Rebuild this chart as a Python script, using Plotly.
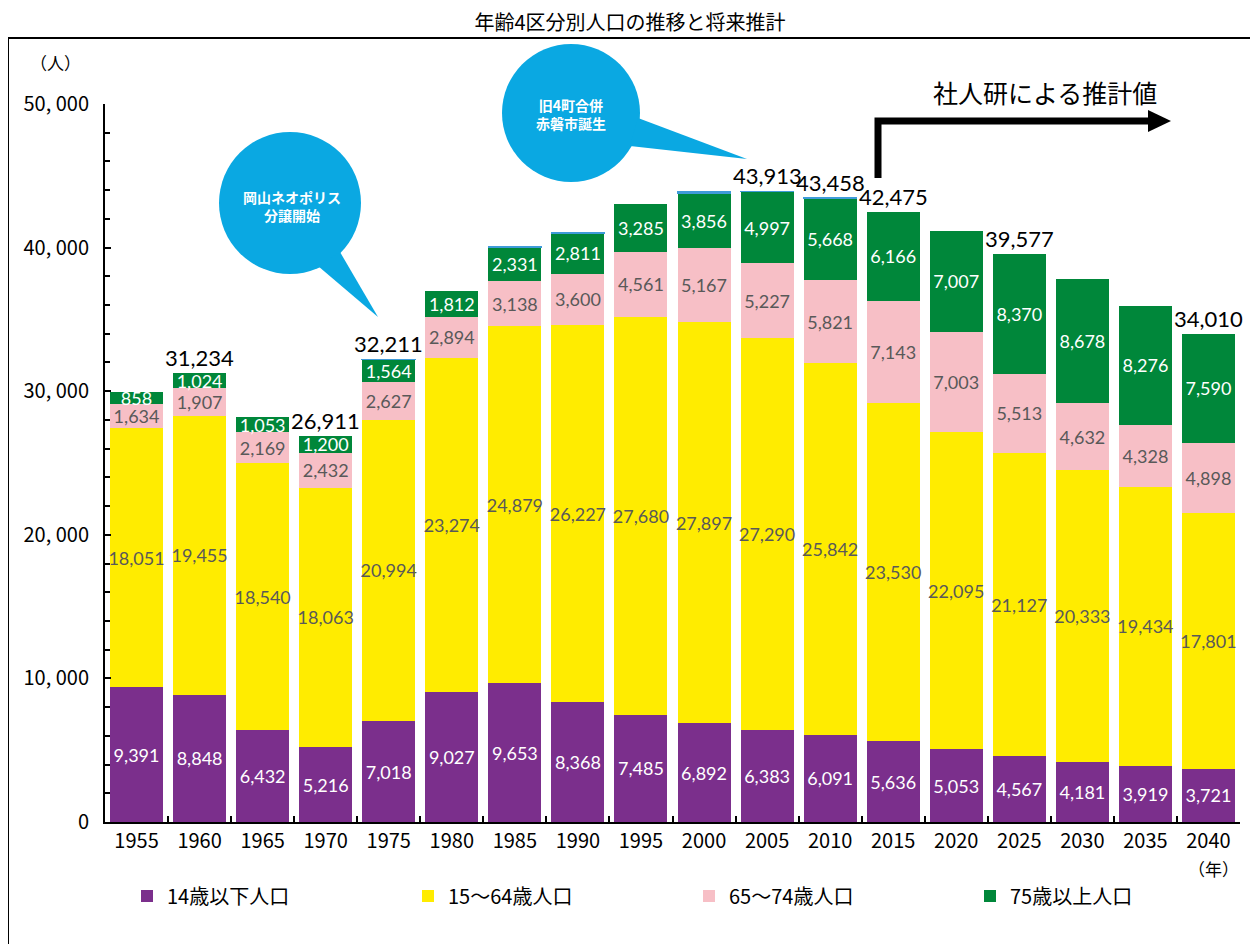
import plotly.graph_objects as go

years = ["1955", "1960", "1965", "1970", "1975", "1980", "1985", "1990", "1995",
         "2000", "2005", "2010", "2015", "2020", "2025", "2030", "2035", "2040"]
age0_14 = [9391, 8848, 6432, 5216, 7018, 9027, 9653, 8368, 7485,
           6892, 6383, 6091, 5636, 5053, 4567, 4181, 3919, 3721]
age15_64 = [18051, 19455, 18540, 18063, 20994, 23274, 24879, 26227, 27680,
            27897, 27290, 25842, 23530, 22095, 21127, 20333, 19434, 17801]
age65_74 = [1634, 1907, 2169, 2432, 2627, 2894, 3138, 3600, 4561,
            5167, 5227, 5821, 7143, 7003, 5513, 4632, 4328, 4898]
age75_up = [858, 1024, 1053, 1200, 1564, 1812, 2331, 2811, 3285,
            3856, 4997, 5668, 6166, 7007, 8370, 8678, 8276, 7590]
unknown = [0, 0, 0, 0, 8, 0, 30, 30, 0, 40, 16, 36, 0, 0, 0, 0, 0, 0]
total_years = ["1960", "1970", "1975", "2005", "2010", "2015", "2025", "2040"]
total_values = [31234, 26911, 32211, 43913, 43458, 42475, 39577, 34010]
y_tickvals = [0, 10000, 20000, 30000, 40000, 50000]
y_ticktext = ["0", "10, 000", "20, 000", "30, 000", "40, 000", "50, 000"]
names = ["14歳以下人口", "15～64歳人口", "65～74歳人口", "75歳以上人口"]

W, H = 1258, 944
OFF = 8  # page offset of the figure (body margin)
L, R, T, B = 105, 1240, 104, 822  # plot area in page pixels


def px(x):
    return (x - L) / (R - L)


def py(y):
    return (B - y) / (B - T)


LABEL_FONT = "Lato, 'Open Sans', sans-serif"
JP_FONT = "'Noto Sans CJK JP', sans-serif"
AXIS_FONT = "'Liberation Sans Narrow', 'Noto Sans CJK JP', sans-serif"

fig = go.Figure()
series = [
    (age0_14, names[0], "#7B2F8C", "white"),
    (age15_64, names[1], "#FFEC00", "#595959"),
    (age65_74, names[2], "#F7BFC6", "#595959"),
    (age75_up, names[3], "#00873A", "white"),
]
for vals, nm, col, tcol in series:
    fig.add_trace(go.Bar(
        x=years, y=vals, name=nm,
        marker=dict(color=col, line=dict(width=0)),
        text=[f"{v:,}" for v in vals],
        textposition="inside", insidetextanchor="middle", textangle=0,
        textfont=dict(family=LABEL_FONT, size=18, color=tcol),
        hoverinfo="skip",
    ))
fig.add_trace(go.Bar(
    x=years, y=unknown, name="不詳", showlegend=False,
    marker=dict(color="#3F9BD9", line=dict(width=[1.6 if v > 0 else 0 for v in unknown], color="#3F9BD9")),
    hoverinfo="skip",
))

annotations = []
for yr, tv in zip(total_years, total_values):
    annotations.append(dict(
        x=years.index(yr), y=tv, xref="x", yref="y", text=f"{tv:,}", showarrow=False,
        xanchor="center", yanchor="bottom", yshift=0,
        font=dict(family=LABEL_FONT, size=22, color="black")))


def note(x, y, text, size, color="black"):
    return dict(x=px(x), y=py(y), xref="paper", yref="paper", text=text, showarrow=False,
                xanchor="center", yanchor="middle",
                font=dict(family=JP_FONT, size=size, color=color))


annotations += [
    note(55, 62, "（人）", 17),
    note(1213, 868, "（年）", 17),
    note(1045, 92, "社人研による推計値", 25),
    note(292, 206, "<b>岡山ネオポリス</b><br><b>分譲開始</b>", 14, "white"),
    note(571, 114, "<b>旧4町合併</b><br><b>赤磐市誕生</b>", 14, "white"),
]

BLUE = "#0AA8E2"


def circle(cx, cy, r):
    return dict(type="circle", xref="paper", yref="paper", x0=px(cx - r), x1=px(cx + r),
                y0=py(cy + r), y1=py(cy - r), fillcolor=BLUE, line=dict(width=0), layer="above")


def poly(pts, fill=None, line=None):
    d = "M " + " L ".join(f"{px(a):.5f},{py(b):.5f}" for a, b in pts)
    if fill:
        d += " Z"
    s = dict(type="path", xref="paper", yref="paper", path=d, layer="above")
    if fill:
        s["fillcolor"] = fill
        s["line"] = dict(width=0)
    else:
        s["line"] = line
    return s


shapes = [
    dict(type="rect", xref="paper", yref="paper", x0=px(8), x1=px(1275), y0=py(38), y1=py(960),
         line=dict(color="black", width=2), layer="below"),
    circle(290, 203, 71),
    poly([(340, 252), (378, 317), (318, 266)], fill=BLUE),
    circle(571, 113, 69),
    poly([(638, 118), (747, 159), (630, 146)], fill=BLUE),
    poly([(878, 178), (878, 121), (1152, 121)], line=dict(color="black", width=7)),
    poly([(1148, 110), (1171, 121), (1148, 132)], fill="black"),
]

fig.update_layout(
    width=W, height=H, autosize=False,
    margin=dict(l=L - OFF, r=W - (R - OFF), t=T - OFF, b=H - (B - OFF), autoexpand=False),
    barmode="stack", bargap=0.16,
    plot_bgcolor="white", paper_bgcolor="white",
    title=dict(text="年齢4区分別人口の推移と将来推計", x=(630 - OFF) / W, xanchor="center",
               y=1 - (23 - OFF) / H, yanchor="middle", font=dict(family=JP_FONT, size=20, color="black")),
    uniformtext=dict(minsize=18, mode="show"),
    showlegend=True,
    legend=dict(orientation="h", xref="container", yref="container",
                x=(127 - OFF) / W, xanchor="left", y=1 - (896 - OFF) / H, yanchor="middle",
                font=dict(family=JP_FONT, size=20, color="black"), entrywidth=236,
                traceorder="normal", bgcolor="rgba(0,0,0,0)"),
    annotations=annotations,
    shapes=shapes,
)
fig.update_xaxes(
    type="category", range=[-0.5, len(years) - 0.5], autorange=False,
    showline=True, linecolor="black", linewidth=2, mirror=False,
    ticks="inside", tickson="boundaries", ticklen=6, tickcolor="black", tickwidth=1.5,
    tickfont=dict(family=AXIS_FONT, size=20, color="black"), showgrid=False, zeroline=False,
)
fig.update_yaxes(
    range=[0, 50000], autorange=False, tickvals=y_tickvals, ticktext=y_ticktext,
    showline=True, linecolor="black", linewidth=2, ticks="inside", ticklen=6,
    tickcolor="black", tickwidth=1.5, ticklabelstandoff=10,
    minor=dict(dtick=2000, ticks="inside", ticklen=5, tickcolor="black", tickwidth=1.5),
    tickfont=dict(family=AXIS_FONT, size=20, color="black"), showgrid=False, zeroline=False,
)

fig.write_html("out.html")
